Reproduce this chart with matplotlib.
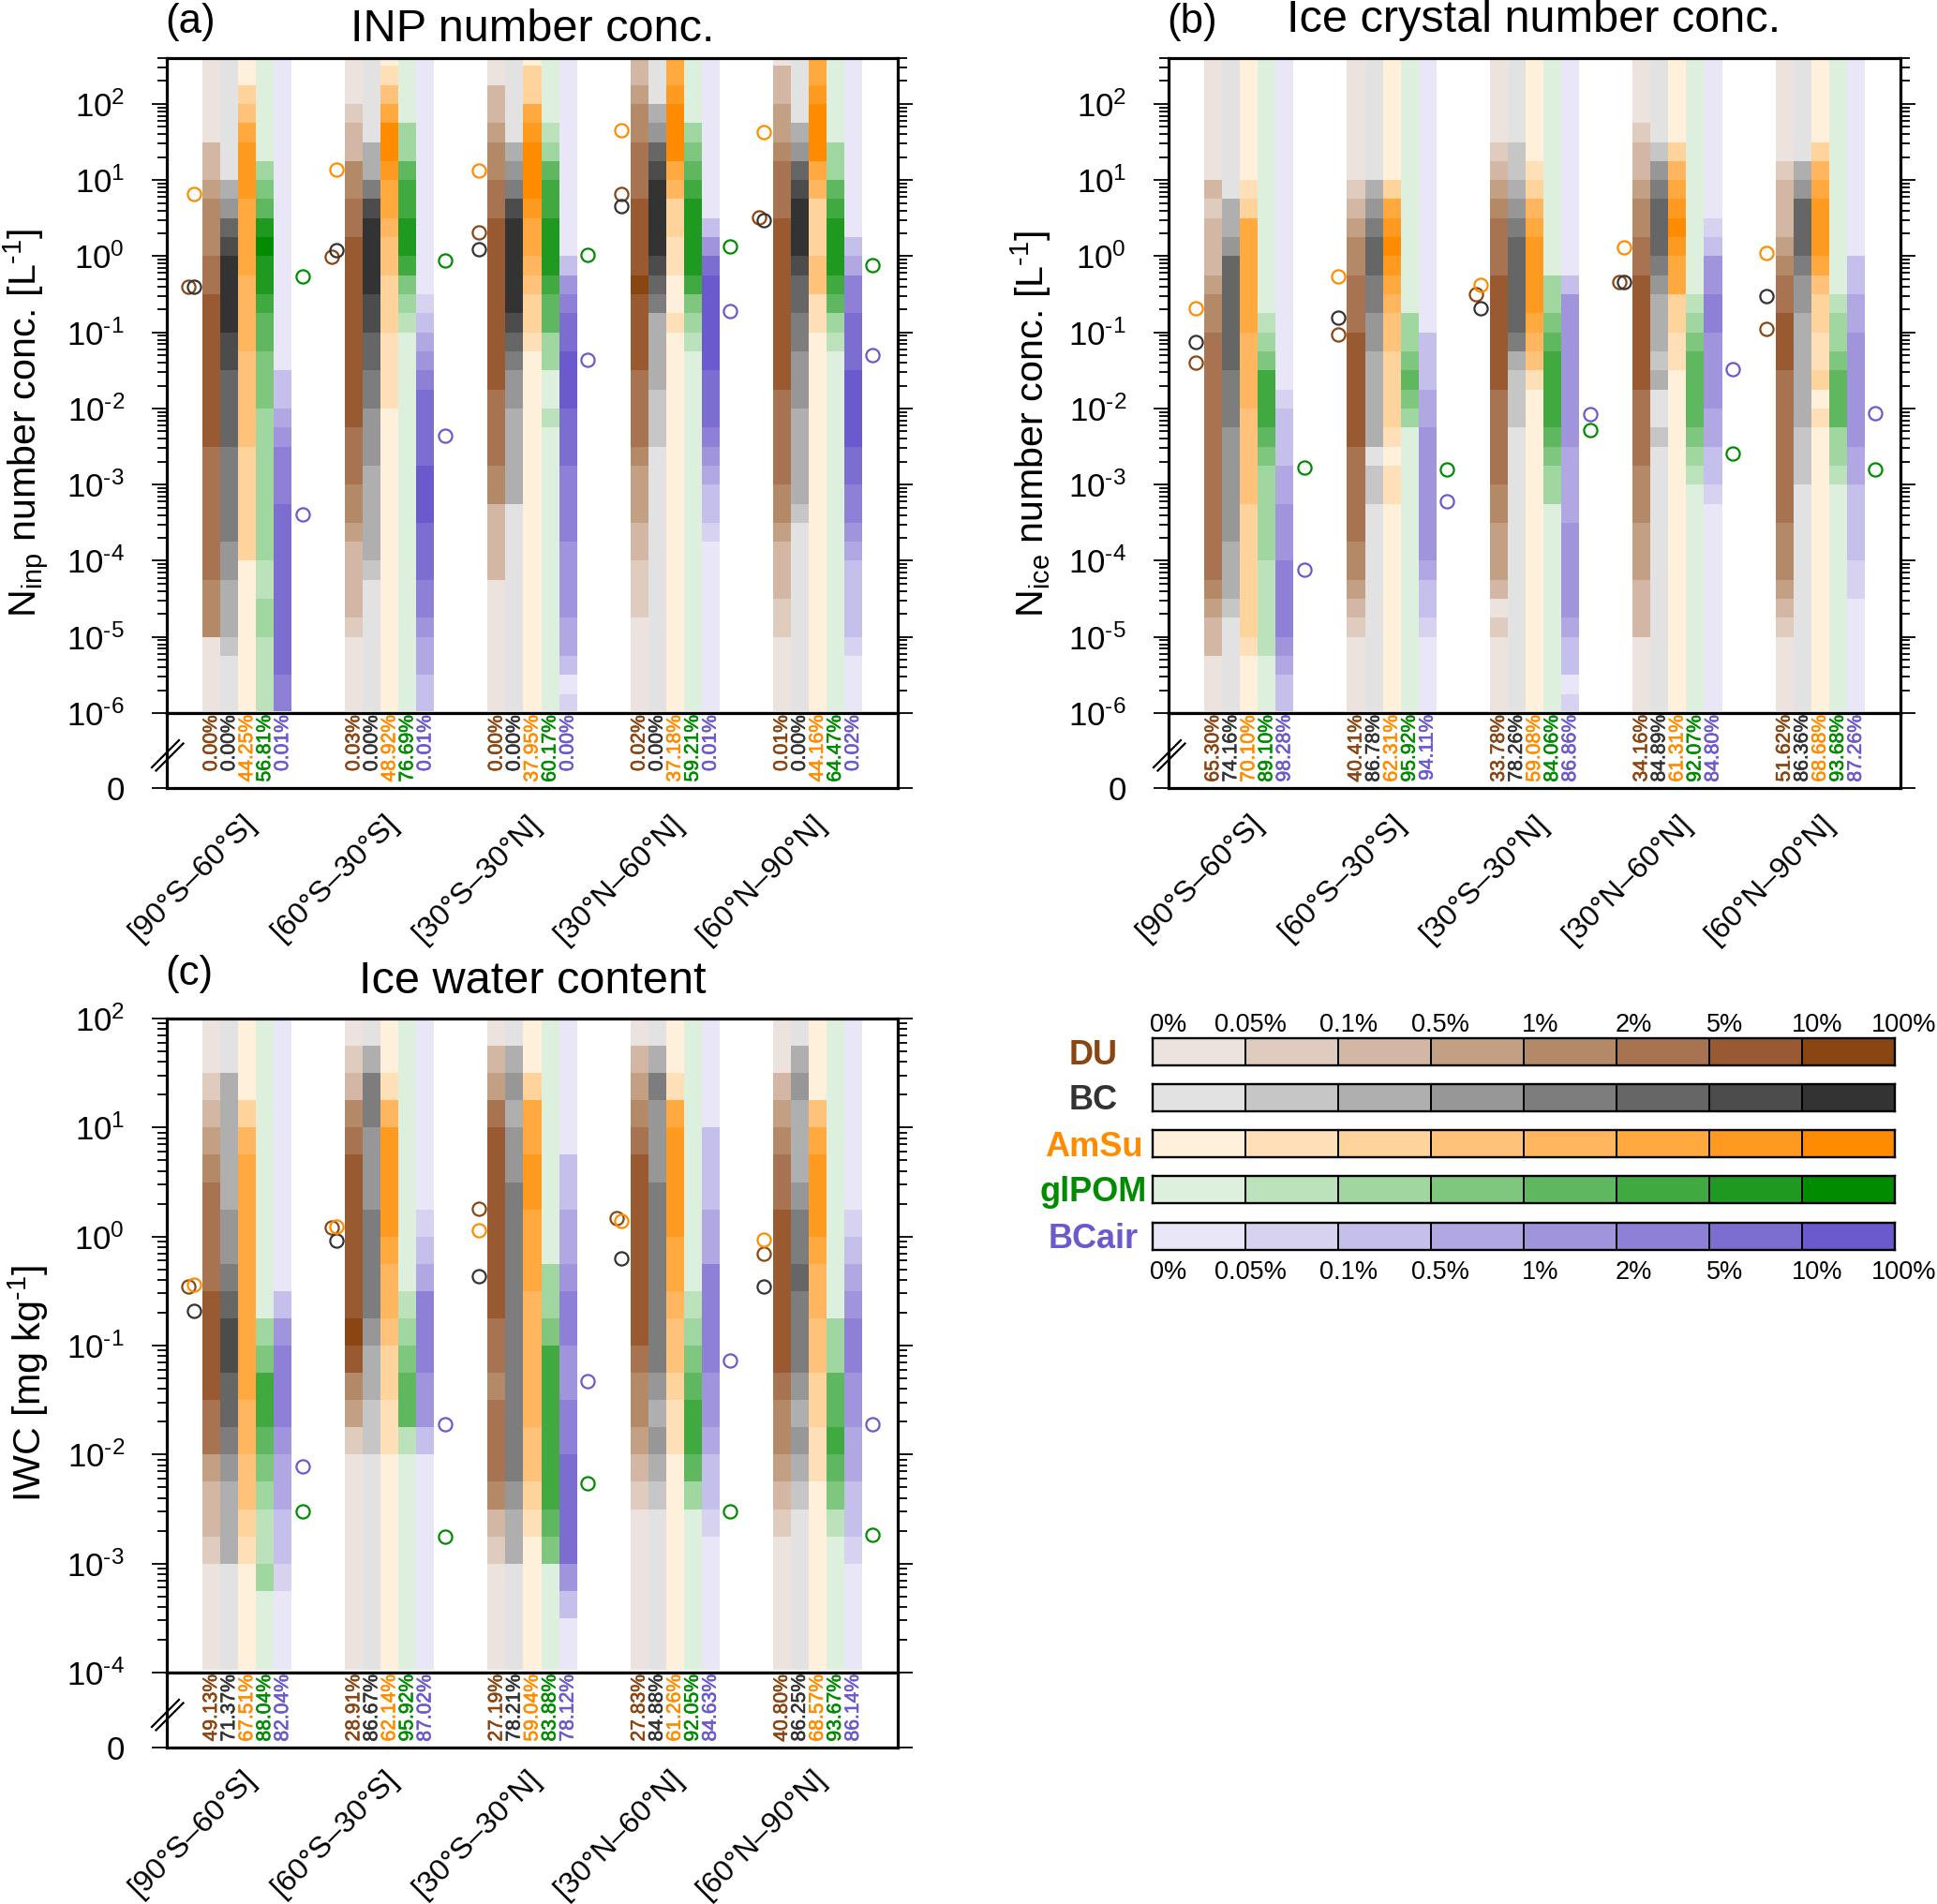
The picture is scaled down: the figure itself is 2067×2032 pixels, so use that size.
import numpy as np
import matplotlib
matplotlib.use("Agg")
import matplotlib.pyplot as plt
import matplotlib.patheffects as pe
from matplotlib.colors import ListedColormap
from matplotlib.ticker import FixedLocator, NullFormatter, FixedFormatter

plt.rcParams['font.family'] = ['Liberation Sans', 'DejaVu Sans']
plt.rcParams['mathtext.fontset'] = 'custom'
plt.rcParams['mathtext.rm'] = 'Liberation Sans'
plt.rcParams['mathtext.it'] = 'Liberation Sans:italic'
plt.rcParams['mathtext.bf'] = 'Liberation Sans:bold'
plt.rcParams['mathtext.default'] = 'regular'

SPECIES = ['DU', 'BC', 'AmSu', 'glPOM', 'BCair']
REGIONS = ['[90°S–60°S]', '[60°S–30°S]', '[30°S–30°N]', '[30°N–60°N]', '[60°N–90°N]']
LEVEL_LABELS = ['0%', '0.05%', '0.1%', '0.5%', '1%', '2%', '5%', '10%', '100%']

DU_COLORS = ['#EDE3DE', '#E0CCBE', '#D3B7A4', '#C39F84', '#B48968', '#A87350', '#995A31', '#8B4513']
BC_COLORS = ['#E2E2E2', '#C6C6C6', '#AFAFAF', '#979797', '#7D7D7D', '#666666', '#4C4C4C', '#333333']
AM_COLORS = ['#FFF0DC', '#FFDFB8', '#FFD39C', '#FFC27A', '#FFB65E', '#FFA93F', '#FF9A20', '#FF8C00']
GL_COLORS = ['#DDEFDD', '#BCE2BC', '#A0D6A0', '#7FC67F', '#5FB75F', '#40A940', '#1F991F', '#008B00']
AIR_COLORS = ['#E9E6F7', '#D6D2F0', '#C5BFEB', '#B1A8E3', '#A094DD', '#8E80D7', '#7C6DD1', '#6A5ACD']
ALL_COLORS = [DU_COLORS, BC_COLORS, AM_COLORS, GL_COLORS, AIR_COLORS]

# shaded frequency classes, top row to bottom row, written as level:count
INP_DU = ['0:5 2:2 3 4:3 5:2 6:8 5:7 4:3 0:4',
          '0:3 1 2:2 4:2 5:2 6:10 5:3 4:2 3 2:4 1 0:4',
          '0:2 2:2 3 4:2 5:2 6:9 5:4 4:2 2:4 0:7',
          '2:2 3 4:2 5:3 6:4 7 6:4 5:4 4 3:3 2:2 1:3 0:5',
          '0 2:2 3:2 4 5:3 6:9 5:5 4:2 3 2:3 1:2 0:4']
INP_BC = ['0:7 2 3 5 6 7:4 6:2 5:4 4:5 3:2 2:3 1 0:3',
          '0:5 2:2 4 6 7:4 6:2 5:2 4:2 3:3 2:5 1 0:7',
          '0:5 2 3 4 6 7:5 6 5 4 3:2 2:5 0:11',
          '0:3 2 3 5 6 7:4 6 5 4 2:4 1:3 0:14',
          '0:4 2 3 5 6 7:3 6 5:2 4:2 3:3 2:5 1 0:10']
INP_AM = ['0:2 2 3 5 6:3 5:4 4:4 3:5 2:6 0:8',
          '0 1 3 5 7:2 6 5:2 4 3:2 2:3 1:4 0:16',
          '0 2:2 5 6 7:3 6 5:2 4 3 2:2 1 0:20',
          '5:2 6 7:3 5 4 2:2 1:2 0:2 1 0:20',
          '5:2 6 7:3 5 4 2:3 3:2 1:2 0:20']
INP_GL = ['0:6 2 3 4 6 7 6:2 5 4:2 3:3 2:8 1:2 2:2 1:4',
          '0:4 2:2 4 5:2 6:2 5 3 2 1 0:20',
          '0:4 1 2 4 5:2 6:3 5 4:2 2:2 0:2 1 0:15',
          '0:4 2 3 4 5 6:4 5 3 2 1 0:19',
          '0:5 2:2 4 5 6:3 5 4 2 1 0:19']
INP_AIR = ['0:17 2:2 3 4 5:3 6:9 5:2',
           '0:13 1 2 3 4 5 6:4 7:3 6:3 5:2 4 3:2 2:2',
           '0:11 2 4 5 6:2 7:3 6:3 5:4 4:4 3:2 2 0 1',
           '0:9 2 4 6 7:5 6:3 5 4 3 2:2 1 0:9',
           '0:10 2 3 5:2 6:3 7:4 6:2 5:2 4 3 2:4 1 0:3']

ICE_DU = ['0:7 2 1 2:3 3 4:2 5:13 4 3 2:2 0:3',
          '0:7 1 2 3 4:2 5:3 6:6 5:5 4:2 3 2 1 0:4',
          '0:5 1 2 3 4 5:3 6:6 5:5 4:2 3:3 2 0 1 0:4',
          '0:4 1 2:2 3 4:2 5:2 6:6 5:4 4:3 3:3 2:3 0:4',
          '0:6 1 2:3 3 4 5:2 6:3 5:8 4:3 3 2 1 0:4']
ICE_BC = ['0:8 2:2 3 5:6 4:3 3:6 2:3 1 0:5',
          '0:7 2 3 4 5:2 4:2 3:2 2:5 0 1:2 0:11',
          '0:5 1:2 2 3 4 5:5 4 2 1:3 0:15',
          '0:5 1 3 4 5:3 4 3 2:3 1 2 0:2 1 0:14',
          '0:6 2 3 5:3 4 3:2 2:6 1:3 0:12']
ICE_AM = ['0:7 1 2 5:6 4:4 3:5 2:7 1 0:3',
          '0:7 2 5 6 7 6 5 4 3:2 2:4 1 0 1:2 0:11',
          '0:6 1 2 4 5 6:4 5 4 3 1 0:17',
          '0:5 2 4 5 6 7 6 5:2 2:2 1:2 0:18',
          '0:5 2 4 5 6:3 5 3 2:2 1:2 2 0 1 0:15']
ICE_GL = ['0:14 1 2 3 5:3 4 3 2:5 1:5 0:3',
          '0:14 2:2 3 4 3 2 0:15',
          '0:12 2:2 3 4 5:4 4 3 2:2 0:11',
          '0:13 1 2 3 4:4 3 2 1 0:12',
          '0:13 1 2:2 3 4:3 2:2 1 0:12']
ICE_AIR = ['0:18 1 2:3 3:2 4:3 5:4 4 3 2:2',
           '0:15 2:3 3:2 4:7 3 2:2 1 0:4',
           '0:12 2 4:8 3:4 4:5 3 2:2 0 1',
           '0:9 1 2 4:2 5:2 4:4 3:2 2:2 1 0:11',
           '0:11 2:2 3:2 4:6 3:2 2:4 1:2 0:6']

IWC_DU = ['0:2 1 2 3 4 5:4 6:4 5:2 3 2:2 1 0:4',
          '0 1 2 4 5 6:6 7 6 4 3 1 0:8',
          '0 2 3 5 6:7 5:2 4 5:3 4 2 1 0:4',
          '0 2 3 4 5 6:7 5 4:2 3 2 1 0:6',
          '0:2 2 3 4 5:2 6:6 5 4:2 3 2 1 0:5']
IWC_BC = ['0:2 2:5 3:2 4 5 6:2 5:2 4 3 2:3 0:4',
          '0 2 4:2 3:3 4:4 3 2:2 1:2 0:8',
          '0 2 3 2 3:2 4:8 4:3 3 2 2 0:4',
          '0 2 4 3:3 4:7 3 2 3 2 1 0:6',
          '0 2 3 2:3 3 4:2 5 4:3 3 2 3 2 1 0:6']
IWC_AM = ['0:3 2 4 5:9 4:2 3:2 2 1 0:4',
          '0:2 1 4 6:4 5 4:2 3 2:2 1:2 0:8',
          '0:2 2 5:2 6:2 5:3 4:5 3:2 2 1 0:5',
          '0:2 1 5 6:4 5:2 4 3:2 2 1:2 0:8',
          '0:3 3 5 6:3 5 4:2 3:2 2:2 1:2 0:7']
IWC_GL = ['0:11 2 3 5:2 4 3 2 1:2 2 0:3',
          '0:10 1 2 3 4:2 1 0:8',
          '0:9 2:2 3 5:6 4 3 0:4',
          '0:10 1 2 3 4 5:2 4 2 0:6',
          '0:11 2:2 4:2 5 4 3 1 0:5']
IWC_AIR = ['0:10 2 4 5:3 4 3:2 2:2 1 0:3',
           '0:7 1 2 3 5:3 4:2 2 0:8',
           '0:5 2:2 3:2 4 5:2 4:2 5:2 6:4 4 2 0:2',
           '0:4 2:3 3:2 5:4 4:2 3 2:2 1 0:5',
           '0:7 1 2 3 4 5:2 4:2 3:2 2:2 1 0:4']

# open circles: log10 of the mean, per region
INP_MEAN = {'DU': [-0.40, -0.01, 0.318, 0.818, 0.507], 'BC': [-0.40, 0.08, 0.096, 0.654, 0.47],
            'AmSu': [0.82, 1.143, 1.122, 1.655, 1.627], 'glPOM': [-0.26, -0.06, 0.014, 0.129, -0.113],
            'BCair': [-3.39, -2.36, -1.364, -0.72, -1.303]}
ICE_MEAN = {'DU': [-1.397, -1.028, -0.503, -0.338, -0.958], 'BC': [-1.122, -0.802, -0.683, -0.338, -0.527],
            'AmSu': [-0.683, -0.265, -0.38, 0.121, 0.047], 'glPOM': [-2.77, -2.80, -2.283, -2.587, -2.804],
            'BCair': [-4.12, -3.214, -2.07, -1.487, -2.058]}
IWC_MEAN = {'DU': [-0.458, 0.086, 0.258, 0.17, -0.158], 'BC': [-0.682, -0.037, -0.364, -0.198, -0.461],
            'AmSu': [-0.438, 0.089, 0.06, 0.14, -0.029], 'glPOM': [-2.52, -2.75, -2.26, -2.52, -2.74],
            'BCair': [-2.11, -1.72, -1.33, -1.14, -1.72]}
INP_DU_SHIFT = [1, 1, 0, 0, 1]
ICE_DU_SHIFT = [0, 0, 1, 1, 0]
IWC_DU_SHIFT = [1, 1, 0, 1, 0]

# percentages printed under the bars
INP_PCT = [['0.00', '0.03', '0.00', '0.02', '0.01'], ['0.00', '0.00', '0.00', '0.00', '0.00'],
           ['44.25', '48.92', '37.95', '37.18', '44.16'], ['56.81', '76.69', '60.17', '59.21', '64.47'],
           ['0.01', '0.01', '0.00', '0.01', '0.02']]
ICE_PCT = [['65.30', '40.41', '33.78', '34.16', '51.62'], ['74.16', '86.78', '78.26', '84.89', '86.36'],
           ['70.10', '62.31', '59.08', '61.31', '68.68'], ['89.10', '95.92', '84.06', '92.07', '93.68'],
           ['98.28', '94.11', '86.86', '84.80', '87.26']]
IWC_PCT = [['49.13', '28.91', '27.19', '27.83', '40.80'], ['71.37', '86.67', '78.21', '84.88', '86.25'],
           ['67.51', '62.14', '59.04', '61.26', '68.57'], ['88.04', '95.92', '83.88', '92.05', '93.67'],
           ['82.04', '87.02', '78.12', '84.63', '86.14']]

W, H = 2067, 2032
fig = plt.figure(figsize=(W / 100, H / 100), dpi=100)
SP_LW = 2.3
TICK_LW = 1.3


def box(l, t, r, b):
    return fig.add_axes([l / W, 1 - b / H, (r - l) / W, (b - t) / H])


def expand(code, n):
    out = []
    for tok in code.split():
        lev, _, cnt = tok.partition(':')
        out += [int(lev)] * (int(cnt) if cnt else 1)
    out = (out + [0] * n)[:n]
    return np.array(out)


def exp_label(k):
    if k < 0:
        return r'$10^{\text{-}%d}$' % (-k)
    return '$10^{%d}$' % k


def panel(l, t, mid, bot, r, ymin_exp, ymax_exp, color_top, grids, means, shifts, pcts,
          title, tag, title_xy, tag_xy, ylabel, ylabel_xy, xlab_shift, xlab_pad):
    ax = box(l, t, r, mid)
    ax.set_yscale('log')
    ax.set_xlim(0, 41)
    ax.set_ylim(10.0 ** ymin_exp, 10.0 ** ymax_exp)
    # row edges run in quarter decades; the top and bottom ones stop just inside the frame
    inner = np.arange(ymin_exp + 0.25, np.floor(color_top * 4) / 4 + 1e-6, 0.25)
    if inner[-1] >= color_top - 0.01:
        inner = inner[:-1]
    edges = np.concatenate([[ymin_exp + 0.03], inner, [color_top]])
    nrow = len(edges) - 1
    for s, (grid, cols) in enumerate(zip(grids, ALL_COLORS)):
        cm = ListedColormap(cols)
        for g, code in enumerate(grid):
            vals = expand(code, nrow)[::-1].reshape(-1, 1)
            x0 = 2 + 8 * g + s
            ax.pcolormesh([x0, x0 + 1], 10.0 ** edges, vals, cmap=cm, vmin=-0.5, vmax=7.5,
                          shading='flat', antialiased=False)
    for s, name in enumerate(SPECIES):
        for g in range(5):
            if s < 3:
                x = 1.5 + 8 * g
                if s == 0 and shifts[g]:
                    x -= 0.27
            else:
                x = 7.6 + 8 * g
            ax.plot([x], [10.0 ** means[name][g]], 'o', mfc='none', mec=ALL_COLORS[s][7],
                    ms=10.2, mew=1.6, zorder=5)
    exps = list(range(int(ymin_exp), int(np.floor(ymax_exp)) + 1))
    majors = [10.0 ** k for k in exps]
    minors = [m * d for d in majors for m in range(2, 10) if m * d <= 10.0 ** ymax_exp * 1.0001]
    ax.yaxis.set_major_locator(FixedLocator(majors))
    ax.yaxis.set_minor_locator(FixedLocator(minors))
    ax.yaxis.set_major_formatter(FixedFormatter([exp_label(k) for k in exps]))
    ax.yaxis.set_minor_formatter(NullFormatter())
    ax.tick_params(axis='y', which='major', length=11.5, width=TICK_LW, labelsize=25, pad=21,
                   left=True, right=True, direction='out')
    ax.tick_params(axis='y', which='minor', length=7.5, width=TICK_LW, left=True, right=True, direction='out')
    ax.set_xticks([])
    for sp in ax.spines.values():
        sp.set_linewidth(SP_LW)

    low = box(l, mid, r, bot)
    low.set_xlim(0, 41)
    low.set_ylim(0, 1)
    low.set_yticks([0])
    low.set_yticklabels(['0'])
    low.tick_params(axis='y', length=11.5, width=TICK_LW, labelsize=25, pad=21, left=True, right=True)
    low.set_xticks([4.5 + 8 * g for g in range(5)])
    low.set_xticklabels(REGIONS, rotation=45, ha='right', va='top', rotation_mode='anchor', fontsize=23.3)
    low.tick_params(axis='x', length=0, pad=xlab_pad)
    for lab in low.get_xticklabels():
        lab.set_transform(lab.get_transform() + matplotlib.transforms.ScaledTranslation(xlab_shift / 100, 0, fig.dpi_scale_trans))
    for sp in low.spines.values():
        sp.set_linewidth(SP_LW)
    for s in range(5):
        for g in range(5):
            low.text(2.5 + 8 * g + s, 0.975, pcts[s][g] + '%', rotation=90, ha='center', va='top',
                     fontsize=15.2, color=ALL_COLORS[s][7], clip_on=False,
                     path_effects=[pe.withStroke(linewidth=0.45, foreground=ALL_COLORS[s][7])])
    # axis-break mark
    for dx, dy in [(0, 0), (4.5, 3.5)]:
        xs = np.array([l - 16 + dx, l + 13 + dx]) / W
        ys = 1 - (np.array([mid + 58 + dy, mid + 29 + dy])) / H
        fig.add_artist(plt.Line2D(xs, ys, color='black', lw=1.6, zorder=10))

    fig.text(title_xy[0] / W, 1 - title_xy[1] / H, title, ha='center', va='center', fontsize=35)
    fig.text(tag_xy[0] / W, 1 - tag_xy[1] / H, tag, ha='left', va='center', fontsize=31.5)
    fig.text(ylabel_xy[0] / W, 1 - ylabel_xy[1] / H, ylabel, ha='center', va='center', rotation=90, fontsize=29.7)


panel(178, 62, 761, 841, 958, -6, np.log10(400), 2.58,
      [INP_DU, INP_BC, INP_AM, INP_GL, INP_AIR], INP_MEAN, INP_DU_SHIFT, INP_PCT,
      'INP number conc.', '(a)', (568, 32), (176, 24),
      r'$\mathregular{N_{inp}}$ number conc. [L$^{\text{-}1}$]', (28, 452), -6, 16.5)
panel(1247, 62, 761, 841, 2028, -6, np.log10(400), 2.58,
      [ICE_DU, ICE_BC, ICE_AM, ICE_GL, ICE_AIR], ICE_MEAN, ICE_DU_SHIFT, ICE_PCT,
      'Ice crystal number conc.', '(b)', (1637, 22), (1245, 24),
      r'$\mathregular{N_{ice}}$ number conc. [L$^{\text{-}1}$]', (1100, 452), 0, 16.5)
panel(178, 1087, 1785, 1865, 958, -4, 2, 1.98,
      [IWC_DU, IWC_BC, IWC_AM, IWC_GL, IWC_AIR], IWC_MEAN, IWC_DU_SHIFT, IWC_PCT,
      'Ice water content', '(c)', (568, 1047), (176, 1040),
      r'IWC [mg kg$^{\text{-}1}$]', (30, 1476), -6, 13)

# colour key
LEG_L, LEG_R = 1230, 2022
LEG_ROWS = [(1108, 1137), (1157, 1186), (1206, 1235), (1255, 1284), (1305, 1334)]
LEG_NAME_X = [1167, 1167, 1167, 1167, 1167]
LEG_LABEL_POS = [0.17, 1.05, 2.11, 3.1, 4.18, 5.18, 6.17, 7.16, 8.1]
for (t, b), cols, name, nx in zip(LEG_ROWS, ALL_COLORS, SPECIES, LEG_NAME_X):
    lg = box(LEG_L, t, LEG_R, b)
    lg.pcolormesh(np.arange(9), [0, 1], np.arange(8).reshape(1, -1), cmap=ListedColormap(cols),
                  vmin=-0.5, vmax=7.5, edgecolors='black', linewidth=1.2)
    lg.set_xlim(0, 8)
    lg.set_ylim(0, 1)
    lg.set_xticks([])
    lg.set_yticks([])
    for sp in lg.spines.values():
        sp.set_linewidth(1.7)
    fig.text(nx / W, 1 - ((t + b) / 2 + 3.5) / H, name, ha='center', va='center', fontsize=26,
             fontweight='bold', color=cols[7])
for p, lab in zip(LEG_LABEL_POS, LEVEL_LABELS):
    x = (LEG_L + p * (LEG_R - LEG_L) / 8) / W
    fig.text(x, 1 - 1094 / H, lab, ha='center', va='center', fontsize=19.5)
    fig.text(x, 1 - 1358 / H, lab, ha='center', va='center', fontsize=19.5)

fig.savefig('out.png', dpi=100, facecolor='white')
